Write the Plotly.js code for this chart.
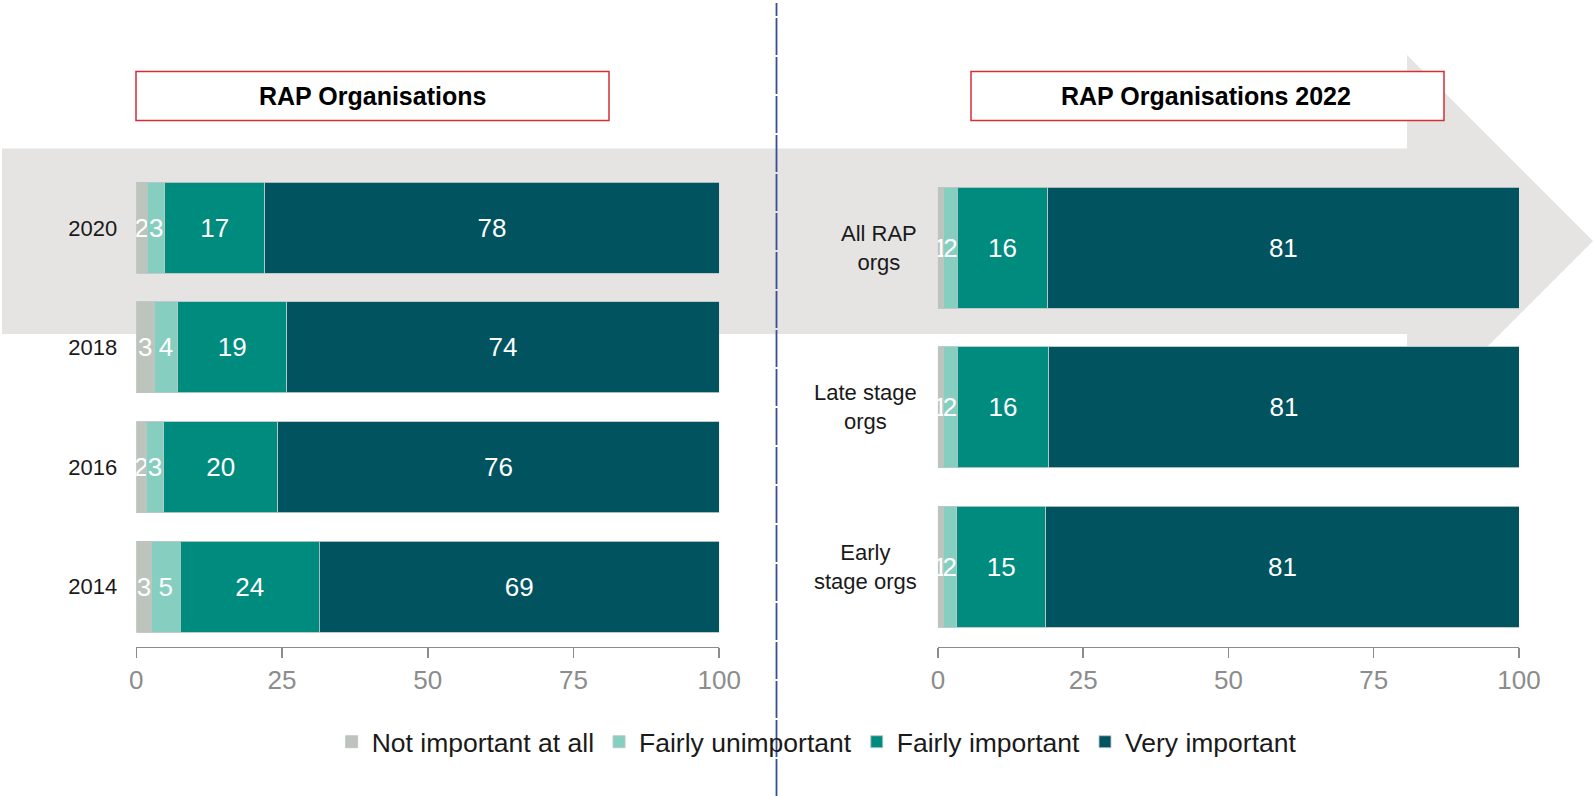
<!DOCTYPE html>
<html>
<head>
<meta charset="utf-8">
<script src="https://cdn.plot.ly/plotly-3.0.1.min.js"></script>
<style>html,body{margin:0;padding:0;background:#fff;}#chart{width:1595px;height:796px;}</style>
</head>
<body>
<div id="chart"></div>
<script>
// ---- Data ----
const seriesNames = ['Not important at all', 'Fairly unimportant', 'Fairly important', 'Very important'];

const categoriesLeft = ['2020', '2018', '2016', '2014'];
const notImportantLeft = [1.9, 3.1, 1.7, 2.6];
const fairlyUnimportantLeft = [3.0, 4.0, 3.0, 4.9];
const fairlyImportantLeft = [17.1, 18.7, 19.6, 23.9];
const veryImportantLeft = [78.0, 74.2, 75.7, 68.6];

const categoriesRight = ['All RAP<br>orgs', 'Late stage<br>orgs', 'Early<br>stage orgs'];
const notImportantRight = [1.0, 0.9, 0.9];
const fairlyUnimportantRight = [2.3, 2.4, 2.3];
const fairlyImportantRight = [15.6, 15.8, 15.4];
const veryImportantRight = [81.1, 80.9, 81.4];

const xTickValues = [0, 25, 50, 75, 100];
const titleLeft = 'RAP Organisations';
const titleRight = 'RAP Organisations 2022';

// ---- Styling ----
const colors = ['#bcc4bb', '#86cfc0', '#008b7f', '#00535f'];
const FONT = 'Liberation Sans, Arial, Helvetica, sans-serif';
const W = 1595, H = 796;
const px = v => v / W;
const py = v => 1 - v / H;

const leftSeries = [notImportantLeft, fairlyUnimportantLeft, fairlyImportantLeft, veryImportantLeft];
const rightSeries = [notImportantRight, fairlyUnimportantRight, fairlyImportantRight, veryImportantRight];

const traces = [];
function addTraces(series, cats, xa, ya, showLegend) {
  series.forEach((vals, i) => {
    traces.push({
      type: 'bar',
      orientation: 'h',
      name: seriesNames[i],
      legendgroup: seriesNames[i],
      showlegend: showLegend,
      x: vals,
      y: cats,
      xaxis: xa,
      yaxis: ya,
      text: vals.map(v => String(Math.round(v))),
      textposition: 'inside',
      insidetextanchor: 'middle',
      textangle: 0,
      textfont: {color: '#ffffff', size: 26, family: FONT},
      marker: {color: colors[i], line: {color: 'rgba(185,198,198,0.9)', width: 1}},
      hoverinfo: 'x+y+name'
    });
  });
}
addTraces(leftSeries, categoriesLeft, 'x', 'y', true);
addTraces(rightSeries, categoriesRight, 'x2', 'y2', false);

const yDom = [py(646.5), py(168)];
const axisX = (dom, anchor) => ({
  domain: dom, anchor: anchor, range: [0, 100], tickvals: xTickValues,
  showgrid: false, zeroline: false, showline: true, linecolor: '#8c8c8c', linewidth: 1.5,
  ticks: 'outside', ticklen: 10, tickwidth: 1.5, tickcolor: '#8c8c8c',
  tickfont: {size: 26, color: '#8c8c8c', family: FONT}, fixedrange: true
});

const layout = {
  width: W, height: H,
  margin: {l: 0, r: 0, t: 0, b: 0},
  paper_bgcolor: '#ffffff',
  plot_bgcolor: 'rgba(0,0,0,0)',
  font: {family: FONT, color: '#1a1a1a'},
  barmode: 'stack',
  bargap: 0.24,
  uniformtext: {mode: 'show', minsize: 26},
  xaxis: axisX([px(136.3), px(719.2)], 'y'),
  xaxis2: axisX([px(937.9), px(1519)], 'y2'),
  yaxis: {
    type: 'category', categoryorder: 'array', categoryarray: categoriesLeft,
    domain: yDom, anchor: 'x', autorange: 'reversed', showgrid: false, zeroline: false,
    showline: false, ticks: '', ticklabelstandoff: 18,
    tickfont: {size: 22, color: '#1a1a1a', family: FONT}, fixedrange: true
  },
  yaxis2: {
    type: 'category', categoryorder: 'array', categoryarray: categoriesRight,
    domain: yDom, anchor: 'x2', autorange: 'reversed', showgrid: false, zeroline: false,
    showline: false, ticks: '', showticklabels: false, fixedrange: true
  },
  legend: {
    orientation: 'h', x: 0.512, xanchor: 'center', y: py(742), yanchor: 'middle',
    font: {size: 26.5, color: '#1a1a1a', family: FONT}, traceorder: 'normal',
    bgcolor: 'rgba(0,0,0,0)'
  },
  shapes: [
    {
      type: 'path', xref: 'paper', yref: 'paper', layer: 'below',
      path: 'M ' + px(2) + ',' + py(148.5) + ' L ' + px(1407) + ',' + py(148.5) +
            ' L ' + px(1407) + ',' + py(55) + ' L ' + px(1593) + ',' + py(241) +
            ' L ' + px(1407) + ',' + py(427) + ' L ' + px(1407) + ',' + py(334) +
            ' L ' + px(2) + ',' + py(334) + ' Z',
      fillcolor: '#e5e4e3', line: {width: 0}
    },
    {
      type: 'rect', xref: 'paper', yref: 'paper', layer: 'below',
      x0: px(136), x1: px(609), y0: py(120.5), y1: py(71.5),
      fillcolor: '#ffffff', line: {color: '#d42e36', width: 1.5}
    },
    {
      type: 'rect', xref: 'paper', yref: 'paper', layer: 'below',
      x0: px(971), x1: px(1444), y0: py(120.5), y1: py(71.5),
      fillcolor: '#ffffff', line: {color: '#d42e36', width: 1.5}
    },
    {
      type: 'line', xref: 'paper', yref: 'paper', layer: 'below',
      x0: px(776.5), x1: px(776.5), y0: 0, y1: py(3),
      line: {color: '#34508f', width: 1.8, dash: '37px,2px'}
    }
  ],
  annotations: [
    {xref: 'paper', yref: 'paper', x: px(372.5), y: py(96.5), text: '<b>' + titleLeft + '</b>',
     showarrow: false, xanchor: 'center', yanchor: 'middle', font: {size: 25, color: '#000000', family: FONT}},
    {xref: 'paper', yref: 'paper', x: px(1206), y: py(96.5), text: '<b>' + titleRight + '</b>',
     showarrow: false, xanchor: 'center', yanchor: 'middle', font: {size: 25, color: '#000000', family: FONT}}
  ].concat(categoriesRight.map(c => ({
    xref: 'paper', yref: 'y2', x: px(919), y: c, text: c, showarrow: false,
    xanchor: 'right', yanchor: 'middle', align: 'center',
    font: {size: 22, color: '#1a1a1a', family: FONT}
  })))
};

Plotly.newPlot('chart', traces, layout, {displayModeBar: false, staticPlot: true});
</script>
</body>
</html>
